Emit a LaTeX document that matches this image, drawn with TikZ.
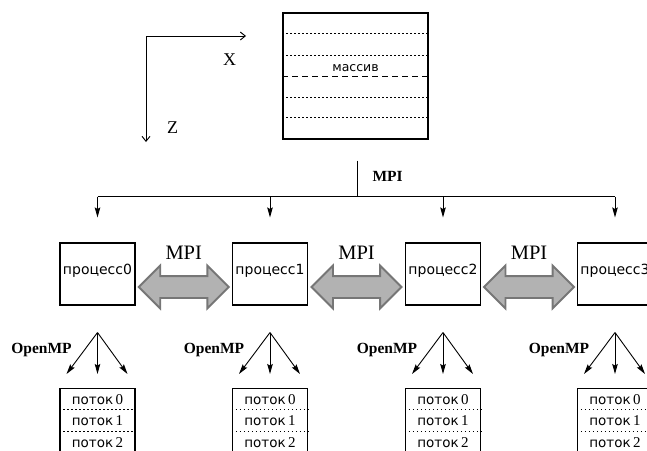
\documentclass[tikz,border=0pt]{standalone}
\usepackage{fontspec}
\setmainfont{Liberation Serif}
\newfontfamily\dvs{DejaVu Sans}
\usetikzlibrary{shapes.arrows,arrows.meta,calc}
\definecolor{fatfill}{RGB}{178,178,178}
\definecolor{fatline}{RGB}{118,118,118}
\newcommand\thrtext[1]{{\dvs\fontsize{13.5}{15}\selectfont поток} {\fontsize{15}{16}\selectfont #1}}
\begin{document}
\begin{tikzpicture}[x=1pt,y=-1pt,
  box/.style={draw,line width=1.05pt,inner sep=0pt,minimum width=75pt},
  procbox/.style={box,text height=31pt,text depth=31pt,font=\dvs\fontsize{14}{16}\selectfont},
  threadbox/.style={box,minimum height=64pt},
  conn/.style={line width=0.9pt},
  arr/.style={conn,-{Stealth[length=10pt,width=5.5pt,inset=1.5pt]}},
  axisarr/.style={conn,-{Straight Barb[length=5pt,width=8pt]}},
  dots/.style={line width=0.9pt,dash pattern=on 1.5pt off 2.5pt},
  midline/.style={line width=1.2pt,dash pattern=on 6pt off 4pt},
  fatarrow/.style={double arrow,draw=fatline,fill=fatfill,line width=1.8pt,
    inner sep=10pt,minimum height=90pt,double arrow head extend=10.5pt},
  mpilabel/.style={anchor=base,font=\fontsize{20.5}{22}\selectfont},
  ompl/.style={anchor=base,font=\bfseries\fontsize{15.5}{17}\selectfont},
  thr/.style={anchor=base}
]
\useasboundingbox (0,0) rectangle (647,450);
\clip (0,0) rectangle (647,450);

% axes
\coordinate (o) at (146,36);
\coordinate (xe) at (246,36);
\coordinate (ze) at (146,142);
\draw[axisarr] (o) -- (xe);
\draw[axisarr] (o) -- (ze);
\node[anchor=base,font=\fontsize{18}{20}\selectfont] (xl) at (229.5,65) {X};
\node[anchor=base,font=\fontsize{18}{20}\selectfont] (zl) at (172.5,133) {Z};

% array
\node[box,minimum width=145pt,minimum height=126pt] (m) at (355.5,76) {};
\foreach \d in {21,43,85,105}
  \draw[dots] ([yshift=-\d pt]m.north west) -- ([yshift=-\d pt]m.north east);
\draw[midline] ([yshift=-64pt]m.north west) -- ([yshift=-64pt]m.north east);
\node[anchor=base,font=\dvs\fontsize{12.5}{14}\selectfont] (mt) at ([yshift=5pt]m.center) {массив};

% processes
\foreach \i/\x in {0/97.5,1/270,2/443,3/615}
  \node[procbox] (p\i) at (\x,274) {процесс\i};

% MPI distribution
\coordinate (j) at ([xshift=1.5pt,yshift=-57pt]m.south);
\draw[conn] ([xshift=1.5pt,yshift=-21pt]m.south) -- (j);
\node[anchor=base west,font=\bfseries\fontsize{15.5}{17}\selectfont] (mpitop) at ([xshift=12pt,yshift=15pt]j) {MPI};
\draw[conn] (p0 |- j) -- (p3 |- j);
\foreach \i in {0,...,3}
  \draw[arr] (p\i |- j) -- ([yshift=25pt]p\i.north);

% fat MPI arrows
\foreach \a/\b [count=\k from 0] in {0/1,1/2,2/3} {
  \node[fatarrow] (f\k) at ($(p\a.east)!0.5!(p\b.west)+(0,13)$) {};
  \node[mpilabel] (fl\k) at ([yshift=28pt]f\k.center) {MPI};
}

% OpenMP threads
\foreach \i in {0,...,3} {
  \coordinate (o\i) at ([yshift=-27pt]p\i.south);
  \node[threadbox] (t\i) at ([yshift=-115pt]p\i.south) {};
  \draw[arr] (o\i) -- ([xshift=-31pt,yshift=14pt]t\i.north);
  \draw[arr] (o\i) -- ([yshift=14pt]t\i.north);
  \draw[arr] (o\i) -- ([xshift=30pt,yshift=14pt]t\i.north);
  \node[ompl] (om\i) at ([xshift=-56pt,yshift=-21pt]o\i) {OpenMP};
  \draw[dots] ([yshift=-21pt]t\i.north west) -- ([yshift=-21pt]t\i.north east);
  \draw[dots] ([yshift=-43pt]t\i.north west) -- ([yshift=-43pt]t\i.north east);
  \node[thr] (ta\i) at ([yshift=-16pt]t\i.north) {\thrtext{0}};
  \node[thr] (tb\i) at ([yshift=-37pt]t\i.north) {\thrtext{1}};
  \node[thr] (tc\i) at ([yshift=-59pt]t\i.north) {\thrtext{2}};
}
\end{tikzpicture}
\end{document}
